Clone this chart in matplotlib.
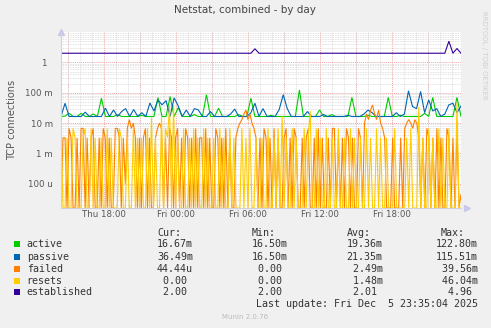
import numpy as np
import matplotlib.pyplot as plt
from matplotlib.patches import Rectangle
from matplotlib.ticker import FixedLocator, NullFormatter

W, H = 491, 328

# time axis in hours since Thu 00:00
t_start, t_end = 14.39, 47.725

# 20-minute samples (values in milli-connections)
active = [
    16.5, 17, 21, 16.5, 16.5, 21, 16.5, 16.5, 20, 16.5, 66, 16.5, 16.5, 16.5, 19, 16.5, 16.5, 16.5, 16.5, 16.5,
    18, 16.5, 16.5, 16.5, 69, 16.5, 16.5, 75, 16.5, 32, 16.5, 16.5, 16.5, 19, 16.5, 16.5, 86, 16.5, 16.5, 31,
    16.5, 16.5, 16.5, 16.5, 19, 16.5, 16.5, 66, 16.5, 16.5, 16.5, 16.5, 18, 16.5, 16.5, 16.5, 16.5, 16.5, 16.5, 122.8,
    16.5, 16.5, 16.5, 16.5, 27, 16.5, 16.5, 19, 16.5, 16.5, 16.5, 16.5, 70, 16.5, 16.5, 16.5, 18, 16.5, 16.5, 16.5,
    16.5, 70, 16.5, 16.5, 18, 16.5, 16.5, 16.5, 16.5, 16.5, 21, 16.5, 70, 16.5, 16.5, 16.5, 16.5, 16.5, 70, 16.67,
]
passive = [
    16.5, 45, 16.5, 16.5, 16.5, 16.5, 23, 16.5, 16.5, 16.5, 16.5, 31, 16.5, 27, 16.5, 24, 30, 16.5, 28, 16.5,
    22, 16.5, 46, 25, 58, 40, 55, 16.5, 68, 37, 16.5, 27, 16.5, 30, 27, 16.5, 16.5, 24, 16.5, 16.5,
    16.5, 16.5, 20, 29, 16.5, 16.5, 16.5, 22, 45, 16.5, 30, 16.5, 16.5, 16.5, 28, 86, 30, 16.5, 16.5, 16.5,
    16.5, 24, 16.5, 16.5, 16.5, 19, 16.5, 16.5, 16.5, 16.5, 16.5, 18, 16.5, 16.5, 16.5, 20, 27, 22, 16.5, 16.5,
    16.5, 16.5, 16.5, 22, 16.5, 20, 115.5, 35, 30, 110, 22, 58, 25, 30, 16.5, 20, 40, 45, 22, 36.49,
]
established = [2.0] * 48 + [2.8] + [2.0] * 47 + [4.96, 2.0, 2.86, 2.0]

# 10-minute samples (milli)
failed = [
    0, 3.3, 3.3, 0, 6.7, 3.3, 0, 0, 3.3, 0, 6.7, 6.7, 0, 3.3, 0, 3.3, 6.7, 0, 0, 3.3,
    0, 6.7, 3.3, 0, 3.3, 0, 0, 6.7, 6.7, 3.3, 0, 3.3, 0.1, 6.7, 13, 6.7, 10, 3.3, 0, 3.3,
    0, 3.3, 6.7, 0, 3.3, 0, 0, 3.3, 6.7, 10, 6.7, 0, 3.3, 0, 6.7, 3.3, 0, 3.3, 6.7, 0,
    3.3, 0, 6.7, 3.3, 0, 3.3, 0, 6.7, 0, 3.3, 3.3, 0, 6.7, 0, 3.3, 0, 0, 6.7, 3.3, 0,
    3.3, 0, 6.7, 0, 3.3, 0, 0, 3.3, 6.7, 10, 13, 20, 27, 13, 20, 10, 6.7, 3.3, 0, 3.3,
    0, 6.7, 3.3, 0, 3.3, 0, 6.7, 0, 3.3, 0, 0, 3.3, 6.7, 0, 3.3, 0, 6.7, 3.3, 0, 0,
    3.3, 0, 3.3, 6.7, 0, 0, 3.3, 0, 6.7, 0, 3.3, 0, 0, 3.3, 0, 6.7, 6.7, 0, 3.3, 0,
    3.3, 0, 6.7, 3.3, 0, 3.3, 0, 0, 6.7, 3.3, 0, 10, 20, 13, 27, 39.56, 20, 13, 27, 10,
    6.7, 3.3, 0, 0, 0, 3.3, 0, 0, 0, 3.3, 0, 6.7, 10, 13, 10, 6.7, 13, 10, 3.3, 0,
    3.3, 0, 6.7, 3.3, 0, 3.3, 0, 6.7, 0, 3.3, 0, 0, 6.7, 3.3, 0, 3.3, 0, 6.7, 0, 0.04444,
]
resets = [
    6.7, 0, 0, 3.3, 0, 0, 6.7, 3.3, 0, 0, 0, 3.3, 6.7, 0, 0, 6.7, 0, 3.3, 0, 0,
    3.3, 0, 0, 6.7, 0, 3.3, 0, 0, 0, 6.7, 3.3, 0, 0, 3.3, 0, 0, 6.7, 0, 3.3, 0,
    3.3, 0, 0, 6.7, 0, 15, 0, 3.3, 0, 0, 16, 0, 6.7, 3.3, 37, 0, 41, 0, 3.3, 0,
    0, 6.7, 0, 0, 3.3, 0, 6.7, 0, 3.3, 0, 0, 6.7, 0, 3.3, 0, 0, 3.3, 0, 0, 6.7,
    0, 3.3, 0, 0, 6.7, 0, 3.3, 0, 0, 0, 6.7, 0, 3.3, 0, 6.7, 0, 0, 3.3, 0, 0,
    3.3, 0, 0, 6.7, 0, 0, 3.3, 0, 6.7, 0, 17, 0, 3.3, 0, 0, 6.7, 0, 3.3, 0, 0,
    0, 6.7, 0, 3.3, 25, 0, 0, 6.7, 0, 3.3, 0, 0, 6.7, 0, 0, 3.3, 0, 0, 6.7, 0,
    0, 3.3, 0, 0, 6.7, 0, 3.3, 0, 0, 3.3, 0, 0, 6.7, 0, 3.3, 0, 0, 6.7, 0, 3.3,
    0, 0, 3.3, 0, 0, 0, 6.7, 0, 0, 0, 0, 0, 3.3, 0, 6.7, 0, 0, 0, 34, 0,
    3.3, 0, 0, 6.7, 0, 3.3, 0, 0, 6.7, 0, 3.3, 0, 0, 6.7, 0, 0, 0, 46.04, 0, 0,
]

names = ["active", "passive", "failed", "resets", "established"]
colors = ["#00CC00", "#0066B3", "#FF8000", "#FFCC00", "#330099"]
cur = ["16.67m", "36.49m", "44.44u", " 0.00 ", " 2.00 "]
mins = ["16.50m", "16.50m", " 0.00 ", " 0.00 ", " 2.00 "]
avgs = ["19.36m", "21.35m", " 2.49m", " 1.48m", " 2.01 "]
maxs = ["122.80m", "115.51m", " 39.56m", " 46.04m", "  4.96 "]

x_ticks = [18, 24, 30, 36, 42]
x_labels = ["Thu 18:00", "Fri 00:00", "Fri 06:00", "Fri 12:00", "Fri 18:00"]
y_ticks = [1e-4, 1e-3, 1e-2, 1e-1, 1]
y_labels = ["100 u", "1 m", "10 m", "100 m", "1  "]

ymin, ymax = 1.6e-5, 10.0

fig = plt.figure(figsize=(W / 100, H / 100), dpi=100, facecolor="#F0F0F0")
ax = fig.add_axes([61 / W, 1 - 208 / H, 400 / W, 176 / H])
ax.set_facecolor("white")
ax.set_yscale("log")

t20 = np.linspace(t_start, t_end, len(active))
t10 = np.linspace(t_start, t_end, len(failed))
series = [(t20, active), (t20, passive), (t10, failed), (t10, resets), (t20, established)]
for (t, vals), c in zip(series, colors):
    v = np.array(vals, dtype=float)
    if c != "#330099":
        v = v / 1000.0
    ax.plot(t, np.clip(v, ymin, None), color=c, lw=0.8, solid_joinstyle="miter")

ax.set_xlim(t_start, t_end)
ax.set_ylim(ymin, ymax)

# grid
ax.xaxis.set_major_locator(FixedLocator(x_ticks))
ax.set_xticklabels(x_labels)
ax.xaxis.set_minor_locator(FixedLocator(np.arange(15, 48, 1)))
ax.yaxis.set_major_locator(FixedLocator(y_ticks))
ax.set_yticklabels(y_labels)
ax.yaxis.set_minor_locator(FixedLocator([m * 10.0 ** e for e in range(-5, 1) for m in range(2, 10)]))
ax.yaxis.set_minor_formatter(NullFormatter())
ax.grid(which="minor", color="#D8D8D8", ls=(0, (1, 1)), lw=0.6)
ax.set_axisbelow(True)
for h in np.arange(15, 48, 3):
    ax.axvline(h, color="#F2A8A8", ls=(0, (1, 1)), lw=0.7, zorder=0.5)
for yv in y_ticks:
    ax.axhline(yv, color="#F2A8A8", ls=(0, (1, 1)), lw=0.7, zorder=0.5)

ax.tick_params(which="both", length=0, labelsize=6.2, labelcolor="#555555")
ax.tick_params(axis="x", pad=1.5)
ax.tick_params(axis="y", pad=6)
for s in ["top", "right"]:
    ax.spines[s].set_visible(False)
for s in ["left", "bottom"]:
    ax.spines[s].set_color("#D0D0E0")
    ax.spines[s].set_linewidth(0.8)
ax.plot([0], [1], marker="^", ms=4, color="#C8C8E8", transform=ax.transAxes, clip_on=False)
ax.plot([1.015], [0], marker=">", ms=4, color="#C8C8E8", transform=ax.transAxes, clip_on=False)

fx = lambda x: x / W
fy = lambda y: 1 - y / H
fig.text(fx(12), fy(120), "TCP connections", rotation=90, ha="center", va="center",
         fontsize=7, color="#555555")
fig.text(fx(245), fy(10), "Netstat, combined - by day", ha="center", va="center",
         fontsize=7.5, color="#444444")
fig.text(fx(484), fy(55), "RRDTOOL / TOBI OETIKER", rotation=270, ha="center", va="center",
         fontsize=5, color="#D0D0D0")

# legend block
mono = dict(family="DejaVu Sans Mono", fontsize=7.2, color="#333333", va="center")
fig.text(fx(157), fy(233.5), "Cur:", **mono)
fig.text(fx(252), fy(233.5), "Min:", **mono)
fig.text(fx(346.7), fy(233.5), "Avg:", **mono)
fig.text(fx(441), fy(233.5), "Max:", **mono)
rows = [244.3, 256.7, 268.7, 280.7, 292.3]
for i, y in enumerate(rows):
    fig.patches.append(Rectangle((fx(14), fy(y + 3)), 6 / W, 6 / H, transform=fig.transFigure,
                                 facecolor=colors[i], edgecolor="none"))
    fig.text(fx(26.7), fy(y), names[i], **mono)
    fig.text(fx(157), fy(y), cur[i], **mono)
    fig.text(fx(252), fy(y), mins[i], **mono)
    fig.text(fx(346.7), fy(y), avgs[i], **mono)
    fig.text(fx(435.7), fy(y), maxs[i], **mono)
fig.text(fx(477.5), fy(304.3), "Last update: Fri Dec  5 23:35:04 2025", ha="right", **mono)
fig.text(fx(245), fy(316.7), "Munin 2.0.76", ha="center", va="center", fontsize=5, color="#BBBBBB")

fig.savefig("out.png", dpi=100, facecolor=fig.get_facecolor())
